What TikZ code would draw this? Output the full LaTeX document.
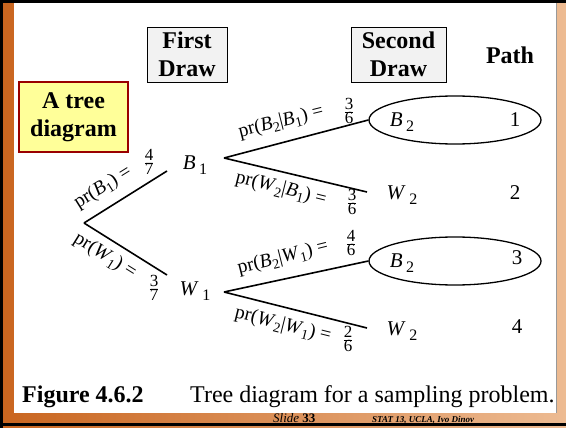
\documentclass[tikz,border=0pt]{standalone}
\usepackage{fontspec}
\setmainfont{Liberation Serif}
\usepackage{tikz}
\usetikzlibrary{shapes.geometric}

\definecolor{frameorange}{HTML}{C9651F}
\definecolor{framepeach}{HTML}{EDBB92}
\definecolor{boxgray}{HTML}{F2F2F2}
\definecolor{treeyellow}{HTML}{FFFF99}
\definecolor{treered}{HTML}{990000}

\newcommand{\ev}[2]{\textit{#1}\,\raisebox{-0.45ex}{\fontsize{16}{16}\selectfont #2}}
\newcommand{\lb}[2]{\textit{#1}\raisebox{-0.45ex}{\fontsize{14}{14}\selectfont #2}}
\newcommand{\fr}[2]{$\frac{\mbox{#1}}{\mbox{#2}}$}

\begin{document}
\begin{tikzpicture}[x=1pt,y=-1pt,
  headbox/.style={draw=black,fill=boxgray,align=center,inner sep=0pt,
    font=\fontsize{24}{28}\selectfont\bfseries},
  branch/.style={line width=1.6pt},
  problabel/.style={font=\fontsize{19.5}{22}\selectfont,inner sep=0pt},
  fraclabel/.style={font=\fontsize{17}{19}\selectfont,inner sep=0pt},
  outcome/.style={font=\fontsize{21}{24}\selectfont,inner sep=0pt},
  pick/.style={draw,ellipse,line width=1.3pt,minimum width=172pt,minimum height=48pt}]
\useasboundingbox (0,0) rectangle (566,428);

% frame
\shade[left color=frameorange,right color=framepeach] (0,0) rectangle (566,428);
\fill[white] (14,3) rectangle (556,413);
\draw[black!40,line width=0.6pt] (556,3) -- (556,413);
\fill[black] (0,0) rectangle (566,3);
\fill[black] (0,0) rectangle (3,428);
\fill[black] (0,423) rectangle (566,425.5);

% headings
\node[headbox,minimum width=80pt,minimum height=55pt] (first) at (187,54.5) {First\\Draw};
\node[headbox,minimum width=95pt,minimum height=55pt] (second) at (398.5,54.5) {Second\\Draw};
\node[font=\fontsize{24}{28}\selectfont\bfseries] (path) at (510,55) {Path};
\node[draw=treered,line width=2pt,fill=treeyellow,align=center,inner sep=0pt,
  minimum width=109pt,minimum height=70pt,font=\fontsize{24}{28}\selectfont\bfseries]
  (tree) at (73.5,117) {A tree\\diagram};

% first draw
\coordinate (root) at (84,223);
\coordinate (b1end) at (167,171);
\coordinate (w1end) at (167,275);
\node[outcome] (b1) at (195,165) {\ev{B}{1}};
\node[outcome] (w1) at (195,291) {\ev{W}{1}};
\draw[branch] (root) -- (b1end);
\draw[branch] (root) -- (w1end);
\node[problabel,rotate=32] (pb1) at (103,188) {pr(\lb{B}{1}) =};
\node[fraclabel] (fb1) at (149,162) {\fr{4}{7}};
\node[problabel,rotate=-32] (pw1) at (105,256) {pr(\lb{W}{1}) =};
\node[fraclabel] (fw1) at (154,288) {\fr{3}{7}};

% second draw
\coordinate (b1fork) at (224,158);
\coordinate (w1fork) at (224,292);
\node[pick] (e1) at (455,120) {};
\node[pick] (e3) at (455,261) {};
\coordinate (b1w2end) at (367,192);
\coordinate (w1w2end) at (367,328);
\draw[branch] (b1fork) -- (e1.west);
\draw[branch] (b1fork) -- (b1w2end);
\draw[branch] (w1fork) -- (e3.west);
\draw[branch] (w1fork) -- (w1w2end);

\node[problabel,rotate=14] (pb2b1) at (281,122) {pr(\lb{B}{2}|\lb{B}{1}) =};
\node[fraclabel] (fb2b1) at (349,111) {\fr{3}{6}};
\node[problabel,rotate=-14] (pw2b1) at (281,189) {pr(\lb{W}{2}|\lb{B}{1}) =};
\node[fraclabel] (fw2b1) at (352,202) {\fr{3}{6}};
\node[problabel,rotate=14] (pb2w1) at (283,258) {pr(\lb{B}{2}|\lb{W}{1}) =};
\node[fraclabel] (fb2w1) at (351,243) {\fr{4}{6}};
\node[problabel,rotate=-14] (pw2w1) at (283,325) {pr(\lb{W}{2}|\lb{W}{1}) =};
\node[fraclabel] (fw2w1) at (348,339) {\fr{2}{6}};

% outcomes and path numbers
\node[outcome] (o1) at (402,122) {\ev{B}{2}};
\node[outcome] (n1) at (515,120) {1};
\node[outcome] (o2) at (402,195) {\ev{W}{2}};
\node[outcome] (n2) at (515,193) {2};
\node[outcome] (o3) at (402,263) {\ev{B}{2}};
\node[outcome] (n3) at (517,258) {3};
\node[outcome] (o4) at (402,331) {\ev{W}{2}};
\node[outcome] (n4) at (517,327) {4};

% caption and footer
\node[anchor=base west,inner sep=0pt,font=\fontsize{24}{26}\selectfont\bfseries] (fig) at (22,402) {Figure 4.6.2};
\node[anchor=base west,inner sep=0pt,font=\fontsize{24}{26}\selectfont] (cap) at (190,402) {Tree diagram for a sampling problem.};
\node[anchor=base west,inner sep=0pt,font=\fontsize{13}{13}\selectfont] (slide) at (273,422) {\textit{Slide} \textbf{33}};
\node[anchor=base west,inner sep=0pt,font=\fontsize{9}{9}\selectfont\bfseries\itshape] (stat) at (372,422) {STAT 13, UCLA, Ivo Dinov};
\end{tikzpicture}
\end{document}
